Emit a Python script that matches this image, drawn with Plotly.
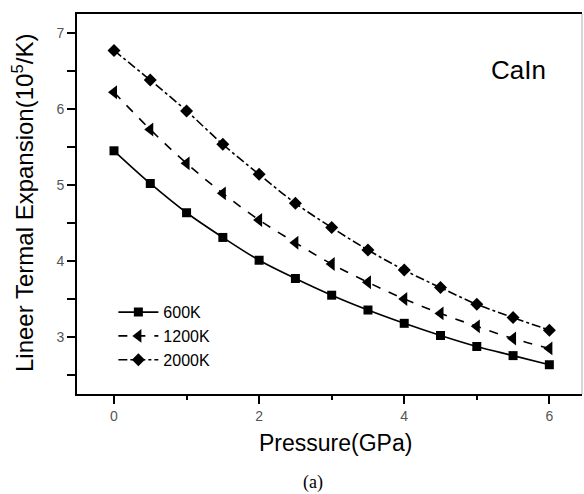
import plotly.graph_objects as go

pressure = [0, 0.5, 1, 1.5, 2, 2.5, 3, 3.5, 4, 4.5, 5, 5.5, 6]
t600 = [5.45, 5.02, 4.635, 4.31, 4.01, 3.77, 3.55, 3.355, 3.18, 3.02, 2.875, 2.755, 2.635]
t1200 = [6.22, 5.73, 5.285, 4.89, 4.54, 4.24, 3.96, 3.72, 3.50, 3.31, 3.14, 2.98, 2.85]
t2000 = [6.77, 6.38, 5.975, 5.535, 5.14, 4.76, 4.44, 4.145, 3.88, 3.65, 3.43, 3.255, 3.09]
series_names = ["600K", "1200K", "2000K"]

FONT = "Liberation Sans, Arial, sans-serif"

fig = go.Figure()
styles = [("solid", "square", 9), ("dash", "triangle-left", 12), ("dashdot", "diamond", 10)]
for name, ys, (dash, sym, sz) in zip(series_names, [t600, t1200, t2000], styles):
    fig.add_trace(go.Scatter(
        x=pressure, y=ys, name=name, mode="lines+markers",
        line=dict(color="black", width=1.6, dash=dash, shape="spline"),
        marker=dict(symbol=sym, size=sz, color="black"),
    ))

fig.update_layout(
    width=584, height=494,
    margin=dict(l=77, r=2, t=14, b=100),
    plot_bgcolor="white", paper_bgcolor="white",
    font=dict(family=FONT, color="black"),
    showlegend=True,
    legend=dict(x=0.072, y=0.26, xanchor="left", yanchor="top",
                bgcolor="rgba(0,0,0,0)", font=dict(size=16, family=FONT),
                itemwidth=40, tracegroupgap=0),
    xaxis=dict(range=[-0.51, 6.45], showgrid=False, zeroline=False,
               showline=True, linecolor="black", linewidth=2, mirror=True,
               ticks="outside", ticklen=8, tickwidth=1.5, tickcolor="black",
               tickvals=[0, 2, 4, 6], tickfont=dict(size=14, color="#555", family=FONT),
               minor=dict(tickvals=[1, 3, 5], ticks="outside", ticklen=4, tickwidth=1.5, tickcolor="black")),
    yaxis=dict(range=[2.25, 7.25], showgrid=False, zeroline=False,
               showline=True, linecolor="black", linewidth=2,
               ticks="outside", ticklen=8, tickwidth=1.5, tickcolor="black",
               tickvals=[3, 4, 5, 6, 7], tickfont=dict(size=14, color="#555", family=FONT),
               minor=dict(tickvals=[2.5, 3.5, 4.5, 5.5, 6.5], ticks="outside", ticklen=8, tickwidth=1.5, tickcolor="black")),
    shapes=[dict(type="line", xref="paper", yref="paper", x0=1, x1=1, y0=0, y1=1,
                 line=dict(color="#c8c8c8", width=1.5))],
    annotations=[
        dict(text="CaIn", xref="paper", yref="paper", x=(518 - 77) / 505, y=(394 - 70) / 380,
             showarrow=False, font=dict(size=26, family=FONT), xanchor="center", yanchor="middle"),
        dict(text="Pressure(GPa)", xref="paper", yref="paper", x=(335 - 77) / 505, y=(394 - 443) / 380,
             showarrow=False, font=dict(size=23, family=FONT), xanchor="center", yanchor="middle"),
        dict(text="Lineer Termal Expansion(10<sup>5</sup>/K)", xref="paper", yref="paper",
             x=(23 - 77) / 505, y=(394 - 203) / 380, textangle=-90,
             showarrow=False, font=dict(size=24, family=FONT), xanchor="center", yanchor="middle"),
        dict(text="(a)", xref="paper", yref="paper", x=(313 - 77) / 505, y=(394 - 482) / 380,
             showarrow=False, font=dict(size=18, family="Liberation Serif, Times New Roman, serif"),
             xanchor="center", yanchor="middle"),
    ],
)

fig.write_html("out.html")
